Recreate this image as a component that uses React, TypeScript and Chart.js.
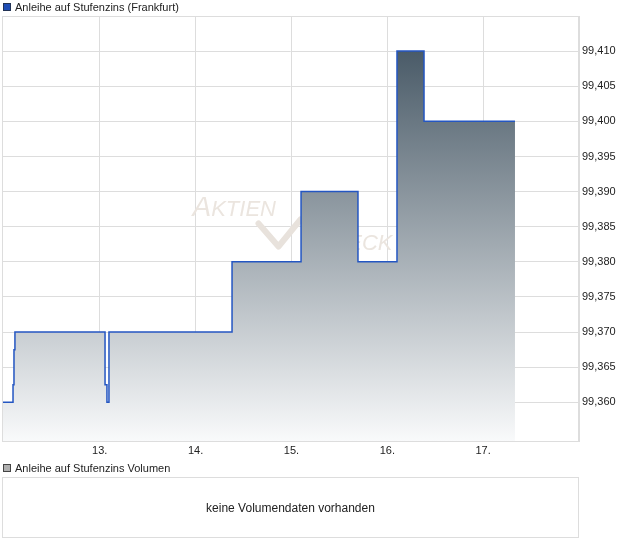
import React, { useEffect, useRef } from "react";
import { Chart, registerables } from "chart.js";

Chart.register(...registerables);

const seriesName = "Anleihe auf Stufenzins (Frankfurt)";
const volumeName = "Anleihe auf Stufenzins Volumen";
const noVolumeText = "keine Volumendaten vorhanden";

const dayTicks = [13, 14, 15, 16, 17];
const yTicks = [99.36, 99.365, 99.37, 99.375, 99.38, 99.385, 99.39, 99.395, 99.4, 99.405, 99.41];

const times = [11.98, 12.095, 12.105, 12.115, 13.055, 13.075, 13.096, 14.38, 15.1, 15.694, 16.101, 16.383, 17.332];
const prices = [99.36, 99.3625, 99.3675, 99.37, 99.3625, 99.36, 99.37, 99.38, 99.39, 99.38, 99.41, 99.4, 99.4];

const xMin = 11.98;
const xMax = 18.0;
const yMin = 99.3545;
const yMax = 99.415;

const FONT = "Arial, 'Liberation Sans', sans-serif";

const watermark = {
  id: "watermark",
  beforeDatasetsDraw(chart: any) {
    const { ctx, chartArea } = chart;
    const cx = (chartArea.left + chartArea.right) / 2;
    const cy = (chartArea.top + chartArea.bottom) / 2;
    ctx.save();
    ctx.fillStyle = "#ebe5df";
    ctx.strokeStyle = "#e8e2dc";
    ctx.textBaseline = "alphabetic";
    ctx.textAlign = "left";
    // AKTIEN
    let x = cx - 98;
    const by = cy - 13;
    ctx.font = `italic 28px ${FONT}`;
    ctx.fillText("A", x, by);
    x += ctx.measureText("A").width;
    ctx.font = `italic 22px ${FONT}`;
    ctx.fillText("KTIEN", x, by);
    // check mark
    ctx.lineWidth = 6;
    ctx.lineCap = "round";
    ctx.lineJoin = "round";
    ctx.beginPath();
    ctx.moveTo(cx - 32, cy - 5);
    ctx.lineTo(cx - 12, cy + 18);
    ctx.lineTo(cx + 10, cy - 9);
    ctx.stroke();
    // CHECK
    ctx.font = `italic 22px ${FONT}`;
    ctx.textAlign = "right";
    ctx.fillText("CHECK", cx + 102, cy + 21);
    ctx.restore();
  },
};

const frame = {
  id: "frame",
  afterDatasetsDraw(chart: any) {
    const { ctx, chartArea } = chart;
    ctx.save();
    ctx.strokeStyle = "#dddddd";
    ctx.lineWidth = 1;
    ctx.strokeRect(chartArea.left + 0.5, chartArea.top + 0.5, chartArea.right - chartArea.left - 1, chartArea.bottom - chartArea.top);
    ctx.restore();
  },
};

function PriceChart() {
  const ref = useRef<HTMLCanvasElement | null>(null);
  useEffect(() => {
    if (!ref.current) return;
    const points = times.map((t, i) => ({ x: t, y: prices[i] }));
    const chart = new Chart(ref.current, {
      type: "line",
      data: {
        datasets: [
          {
            label: seriesName,
            data: points,
            stepped: true,
            borderColor: "#2456c2",
            borderWidth: 1.5,
            pointRadius: 0,
            fill: "start",
            backgroundColor: (c: any) => {
              const ch = c.chart;
              const area = ch.chartArea;
              if (!area) return "rgba(0,0,0,0)";
              const top = ch.scales.y.getPixelForValue(Math.max(...prices));
              const g = ch.ctx.createLinearGradient(0, top, 0, area.bottom);
              g.addColorStop(0, "#4a5b68");
              g.addColorStop(1, "#f9fafb");
              return g;
            },
          },
        ],
      },
      options: {
        responsive: false,
        animation: false,
        layout: { padding: { left: 2, top: 16, right: 0, bottom: 0 } },
        plugins: { legend: { display: false }, tooltip: { enabled: false } },
        scales: {
          x: {
            type: "linear",
            min: xMin,
            max: xMax,
            afterBuildTicks: (s: any) => {
              s.ticks = dayTicks.map((v) => ({ value: v }));
            },
            afterFit: (s: any) => {
              s.height = 24;
            },
            grid: { color: "#dddddd", drawTicks: false },
            border: { display: true, color: "#dddddd" },
            ticks: {
              color: "#222222",
              font: { family: FONT, size: 11 },
              padding: 3,
              maxRotation: 0,
              callback: (v: any) => `${v}.`,
            },
          },
          y: {
            type: "linear",
            position: "right",
            min: yMin,
            max: yMax,
            afterBuildTicks: (s: any) => {
              s.ticks = yTicks.map((v) => ({ value: v }));
            },
            afterFit: (s: any) => {
              s.width = 41;
            },
            grid: { color: "#dddddd", drawTicks: false },
            border: { display: true, color: "#dddddd" },
            ticks: {
              color: "#222222",
              font: { family: FONT, size: 11 },
              padding: 3,
              callback: (v: any) => Number(v).toFixed(3).replace(".", ","),
            },
          },
        },
      },
      plugins: [watermark, frame],
    });
    return () => chart.destroy();
  }, []);
  return <canvas ref={ref} width={620} height={465} style={{ position: "absolute", left: 0, top: 0, width: 620, height: 465 }} />;
}

export default function App() {
  const legendText: React.CSSProperties = {
    position: "absolute",
    left: 15,
    fontFamily: FONT,
    fontSize: 11,
    color: "#222",
    lineHeight: "14px",
    whiteSpace: "nowrap",
  };
  return (
    <div style={{ position: "absolute", left: 0, top: 0, width: 620, height: 546, background: "#fff", overflow: "hidden" }}>
      <PriceChart />
      <div style={{ position: "absolute", left: 3, top: 3, width: 6, height: 6, background: "#1f4db5", border: "1px solid #223355" }} />
      <div style={{ ...legendText, top: 0 }}>{seriesName}</div>
      <div style={{ position: "absolute", left: 3, top: 464, width: 6, height: 6, background: "#b0b0b0", border: "1px solid #444" }} />
      <div style={{ ...legendText, top: 461 }}>{volumeName}</div>
      <div
        style={{
          position: "absolute",
          left: 2,
          top: 477,
          width: 575,
          height: 59,
          border: "1px solid #dddddd",
          display: "flex",
          alignItems: "center",
          justifyContent: "center",
          fontFamily: FONT,
          fontSize: 12,
          color: "#222",
        }}
      >
        {noVolumeText}
      </div>
    </div>
  );
}
